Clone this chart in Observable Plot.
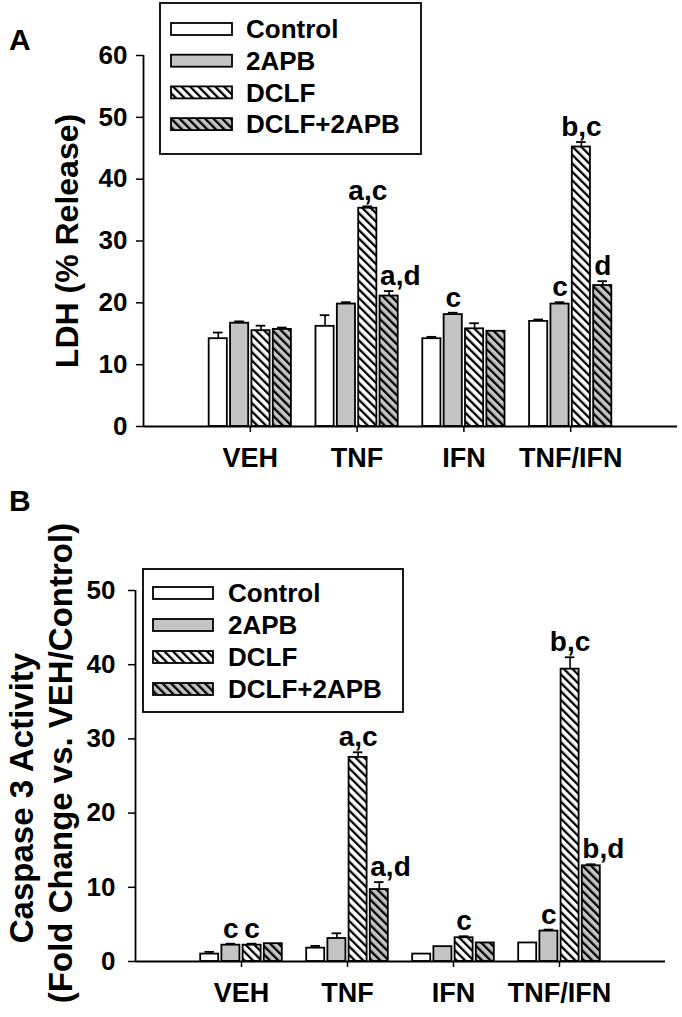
<!DOCTYPE html>
<html><head><meta charset="utf-8">
<script src="https://cdn.jsdelivr.net/npm/d3@7"></script>
<script src="https://cdn.jsdelivr.net/npm/@observablehq/plot@0.6"></script>
<style>
body{margin:0;background:#fff;}
#wrap{width:682px;height:1017px;position:relative;overflow:hidden;background:#fff;}
#wrap svg{display:block;}
</style></head><body>
<svg width="0" height="0" style="position:absolute">
<defs>
<pattern id="hatchW" patternUnits="userSpaceOnUse" width="6" height="6" patternTransform="rotate(-45)">
<rect width="6" height="6" fill="#fff"/><rect width="2.3" height="6" fill="#000"/>
</pattern>
<pattern id="hatchG" patternUnits="userSpaceOnUse" width="6" height="6" patternTransform="rotate(-45)">
<rect width="6" height="6" fill="#c4c4c4"/><rect width="2.3" height="6" fill="#000"/>
</pattern>
</defs></svg>
<div id="wrap"></div>
<script>
const categories = ["VEH", "TNF", "IFN", "TNF/IFN"];
const treatments = ["Control", "2APB", "DCLF", "DCLF+2APB"];
const yTicksA = [0, 10, 20, 30, 40, 50, 60];
const yTicksB = [0, 10, 20, 30, 40, 50];
const titleA = ["LDH (% Release)"];
const titleB = ["Caspase 3 Activity", "(Fold Change vs. VEH/Control)"];

// Panel A: LDH (% release); rows = categories, columns = treatments
const ldhMean = [
  [14.2, 16.7, 15.5, 15.7],
  [16.2, 19.8, 35.3, 21.1],
  [14.2, 18.1, 15.8, 15.4],
  [17.0, 19.8, 45.2, 22.8]
];
const ldhErr = [
  [1.0, 0.3, 0.8, 0.3],
  [1.8, 0.3, 0.3, 0.8],
  [0.3, 0.3, 0.9, 0],
  [0.3, 0.3, 0.8, 0.7]
];
const ldhSig = [
  ["", "", "", ""],
  ["", "", "a,c", "a,d"],
  ["", "c", "", ""],
  ["", "c", "b,c", "d"]
];
// Panel B: caspase 3 activity (fold change)
const caspMean = [
  [1.0, 2.2, 2.2, 2.4],
  [1.8, 3.1, 27.5, 9.7],
  [1.0, 2.0, 3.2, 2.5],
  [2.5, 4.1, 39.4, 12.9]
];
const caspErr = [
  [0.3, 0.2, 0.2, 0],
  [0.3, 0.7, 0.7, 1.0],
  [0, 0, 0.2, 0],
  [0, 0.2, 1.6, 0.2]
];
const caspSig = [
  ["", "c", "c", ""],
  ["", "", "a,c", "a,d"],
  ["", "", "c", ""],
  ["", "c", "b,c", "b,d"]
];

const FONT = "'Liberation Sans', Arial, Helvetica, sans-serif";
const fills = ["#ffffff", "#c4c4c4", "url(#hatchW)", "url(#hatchG)"];
const offsets = [-0.3, -0.1, 0.1, 0.3];
const halfW = 0.085;

function panel(cfg) {
  const rows = [];
  categories.forEach((c, i) => treatments.forEach((t, j) =>
    rows.push({cat: c, ci: i + 1, trt: t, tj: j, mean: cfg.mean[i][j], err: cfg.err[i][j], sig: cfg.sig[i][j]})));
  const cx = d => d.ci + offsets[d.tj];
  const yMax = d3.max(cfg.ticks);
  const errRows = rows.filter(d => d.err > 0);
  const sigRows = rows.filter(d => d.sig);
  const isStart = d => d.tj === 3 && d.sig.length > 1;
  const svg = Plot.plot({
    width: 682, height: cfg.height,
    marginLeft: cfg.ml, marginRight: cfg.mr, marginTop: cfg.mt, marginBottom: cfg.mb,
    x: {domain: [0, 5]},
    y: {domain: [0, yMax]},
    style: {fontFamily: FONT, fontWeight: "bold", fontSize: "26px", color: "#000", background: "transparent", overflow: "visible"},
    marks: [
      ...treatments.map((t, j) => Plot.rectY(rows.filter(d => d.tj === j), {
        x1: d => cx(d) - halfW, x2: d => cx(d) + halfW, y1: 0, y2: "mean",
        fill: fills[j], stroke: "#000", strokeWidth: 1.8})),
      Plot.ruleX(errRows, {x: cx, y1: "mean", y2: d => d.mean + d.err, stroke: "#000", strokeWidth: 1.6}),
      Plot.ruleY(errRows, {y: d => d.mean + d.err, x1: d => cx(d) - 0.045, x2: d => cx(d) + 0.045, stroke: "#000", strokeWidth: 1.8}),
      Plot.text(sigRows.filter(d => !isStart(d)), {x: cx, y: d => d.mean + d.err, text: "sig", lineAnchor: "bottom", dy: -6,
        fontSize: 28, fontWeight: "bold", fill: "#000"}),
      Plot.text(sigRows.filter(isStart), {x: d => cx(d) - halfW, y: d => d.mean + d.err, text: "sig", lineAnchor: "bottom", dy: -6,
        textAnchor: "start", fontSize: 28, fontWeight: "bold", fill: "#000"}),
      Plot.ruleX([0], {y1: 0, y2: yMax, stroke: "#000", strokeWidth: 1.8}),
      Plot.ruleY([0], {stroke: "#000", strokeWidth: 1.8}),
      Plot.axisY({ticks: cfg.ticks, tickSize: 7, tickPadding: cfg.yPad, label: null, strokeWidth: 1.5}),
      Plot.axisX({ticks: [1, 2, 3, 4], tickFormat: v => categories[v - 1], tickSize: 6, tickPadding: 15, label: null, strokeWidth: 1.5})
    ]
  });
  const s = d3.select(svg);
  s.selectAll('g[aria-label="y-axis tick label"]').attr("font-size", 26).selectAll("text").attr("font-size", null);
  s.selectAll('g[aria-label="x-axis tick label"]').attr("font-size", 27).selectAll("text").attr("font-size", null);
  // panel letter
  s.append("text").attr("x", cfg.letterX).attr("y", cfg.letterY).text(cfg.letter).attr("text-anchor", "start")
    .attr("font-size", 30).attr("font-weight", "bold").attr("font-family", FONT).attr("fill", "#000");
  // y titles
  cfg.title.forEach((t, k) => {
    s.append("text").attr("transform", `translate(${cfg.titleX[k]},${cfg.titleY[k]}) rotate(-90)`)
      .attr("text-anchor", "middle").attr("font-size", cfg.titleSize).attr("font-weight", "bold")
      .attr("font-family", FONT).attr("fill", "#000").text(t);
  });
  // legend
  const L = cfg.legend;
  const g = s.append("g").attr("text-anchor", "start");
  g.append("rect").attr("x", L.x0).attr("y", L.y0).attr("width", L.x1 - L.x0).attr("height", L.y1 - L.y0)
    .attr("fill", "#fff").attr("stroke", "#000").attr("stroke-width", 1.8);
  treatments.forEach((t, j) => {
    const yy = L.rowY0 + j * L.rowStep;
    g.append("rect").attr("x", L.sx0).attr("y", yy - 6).attr("width", L.sx1 - L.sx0).attr("height", 12)
      .attr("fill", fills[j]).attr("stroke", "#000").attr("stroke-width", 1.8);
    g.append("text").attr("x", L.tx).attr("y", yy).attr("dy", "0.36em").text(t).attr("text-anchor", "start")
      .attr("font-size", 26).attr("font-weight", "bold").attr("font-family", FONT).attr("fill", "#000");
  });
  return svg;
}

const wrap = document.getElementById("wrap");
wrap.appendChild(panel({
  mean: ldhMean, err: ldhErr, sig: ldhSig, ticks: yTicksA, height: 480,
  ml: 143, mr: 5, mt: 55, mb: 54, yPad: 9,
  letter: "A", letterX: 9, letterY: 50,
  title: titleA, titleX: [78], titleY: [241], titleSize: 32,
  legend: {x0: 160, y0: 3, x1: 421, y1: 154, rowY0: 29, rowStep: 31.7, sx0: 171, sx1: 232, tx: 246}
}));
wrap.appendChild(panel({
  mean: caspMean, err: caspErr, sig: caspSig, ticks: yTicksB, height: 537,
  ml: 135, mr: 17, mt: 110, mb: 56, yPad: 13,
  letter: "B", letterX: 9, letterY: 31,
  title: titleB, titleX: [33, 72], titleY: [318, 283], titleSize: 33,
  legend: {x0: 143, y0: 89, x1: 403, y1: 232, rowY0: 113, rowStep: 32, sx0: 153, sx1: 213, tx: 228}
}));
</script>
</body></html>
